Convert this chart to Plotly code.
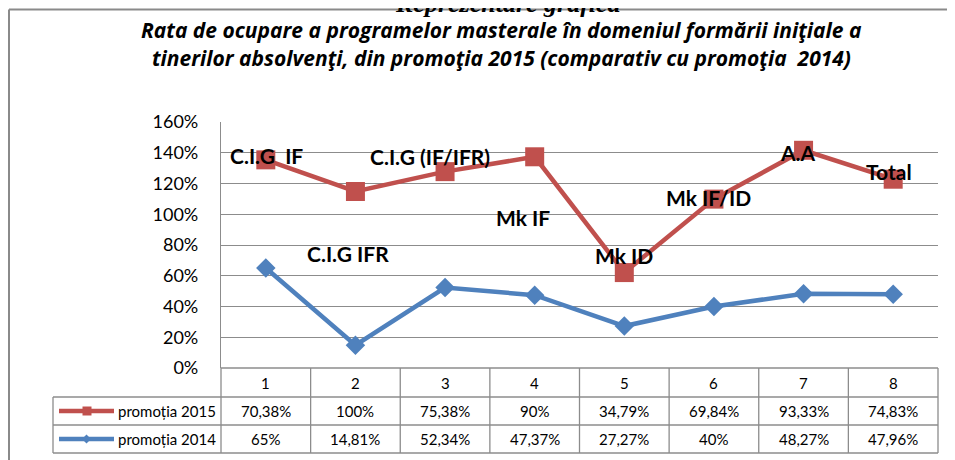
import plotly.graph_objects as go

# ---------------- data ----------------
categories = [1, 2, 3, 4, 5, 6, 7, 8]
promotia_2015 = [0.7038, 1.00, 0.7538, 0.90, 0.3479, 0.6984, 0.9333, 0.7483]
promotia_2014 = [0.65, 0.1481, 0.5234, 0.4737, 0.2727, 0.40, 0.4827, 0.4796]
point_labels = ["C.I.G  IF", "C.I.G IFR", "C.I.G (IF/IFR)", "Mk IF", "Mk ID",
                "Mk IF/ID", "A.A", "Total"]
series_names = ["promoția 2015", "promoția 2014"]
y_ticks = [0, 0.2, 0.4, 0.6, 0.8, 1.0, 1.2, 1.4, 1.6]

title_lines = ["Rata de ocupare a programelor masterale în domeniul formării iniţiale a",
               "tinerilor absolvenţi, din promoţia 2015 (comparativ cu promoţia  2014)"]
top_text = "Reprezentare grafică"

# ---------------- style ----------------
RED = "#C0504D"
BLUE = "#4F81BD"
GRID = "#8C8C8C"
OFF = 8                      # page body margin of the html page
W, H = 955, 460
PLOT_L, PLOT_R, PLOT_T, PLOT_B = 221, 938, 122, 368   # page pixels
ML, MT = PLOT_L - OFF, PLOT_T - OFF
PW, PH = PLOT_R - PLOT_L, PLOT_B - PLOT_T
MR, MB = W - ML - PW, H - MT - PH
FONT = "Lato"

# label offsets (pixels) relative to the stacked (red) point
label_shift = [(1, 4), (-7, -62), (-15, 15), (-12, -61), (0, 17), (-5, 2), (-6, -2), (-4, 8)]


def px_x(p):
    """page pixel -> paper x"""
    return (p - PLOT_L) / PW


def px_y(p):
    """page pixel -> paper y"""
    return (PLOT_B - p) / PH


def fmt(v):
    s = f"{v * 100:.2f}".rstrip("0").rstrip(".")
    return s.replace(".", ",") + "%"


fig = go.Figure()
fig.add_trace(go.Scatter(
    x=categories, y=promotia_2014, name=series_names[1], stackgroup="s", fill="none",
    mode="lines+markers", line=dict(color=BLUE, width=4.5),
    marker=dict(symbol="diamond", size=15, color=BLUE)))
fig.add_trace(go.Scatter(
    x=categories, y=promotia_2015, name=series_names[0], stackgroup="s", fill="none",
    mode="lines+markers", line=dict(color=RED, width=4.5),
    marker=dict(symbol="square", size=19, color=RED)))

annotations = []
shapes = []

# point labels
for c, a, b, lab, (dx, dy) in zip(categories, promotia_2015, promotia_2014, point_labels, label_shift):
    annotations.append(dict(x=c, y=a + b, xref="x", yref="y", text=lab, showarrow=False,
                            xshift=dx, yshift=dy, xanchor="center", yanchor="middle",
                            font=dict(family=FONT, size=21, color="black", weight="bold")))

# title (two lines)
for line, yc in zip(title_lines, [30, 58]):
    annotations.append(dict(x=px_x(501), y=px_y(yc), xref="paper", yref="paper", text=line,
                            showarrow=False, xanchor="center", yanchor="middle",
                            font=dict(family="Open Sans", size=21, color="black",
                                      weight="bold", style="italic")))
annotations.append(dict(x=px_x(508), y=px_y(3), xref="paper", yref="paper", text=top_text,
                        showarrow=False, xanchor="center", yanchor="middle",
                        font=dict(family="Liberation Serif", size=26, color="black",
                                  weight="bold", style="italic")))

# outer frame (top and left edges only are inside the page)
frame = dict(color="#8A8A8A", width=2)
shapes.append(dict(type="line", xref="paper", yref="paper", x0=px_x(OFF + 1), x1=px_x(1000),
                   y0=px_y(9.5), y1=px_y(9.5), line=frame))
shapes.append(dict(type="line", xref="paper", yref="paper", x0=px_x(OFF + 1), x1=px_x(OFF + 1),
                   y0=px_y(9.5), y1=px_y(520), line=frame))

# data table
row_y = [368, 397, 425, 453]
tbl = dict(color=GRID, width=1.3)
shapes.append(dict(type="line", xref="paper", yref="paper", x0=0, x1=1,
                   y0=px_y(row_y[0]), y1=px_y(row_y[0]), line=tbl))
for ry in row_y[1:]:
    shapes.append(dict(type="line", xref="paper", yref="paper", x0=px_x(53), x1=1,
                       y0=px_y(ry), y1=px_y(ry), line=tbl))
shapes.append(dict(type="line", xref="paper", yref="paper", x0=px_x(53), x1=px_x(53),
                   y0=px_y(row_y[1]), y1=px_y(row_y[3]), line=tbl))
for k in range(len(categories) + 1):
    xx = k / len(categories)
    shapes.append(dict(type="line", xref="paper", yref="paper", x0=xx, x1=xx,
                       y0=px_y(row_y[0]), y1=px_y(row_y[3]), line=tbl))

cell_font = dict(family=FONT, size=15, color="black")
row_centers = [(row_y[i] + row_y[i + 1]) / 2 for i in range(3)]
for c in categories:
    annotations.append(dict(x=c, y=px_y(row_centers[0]), xref="x", yref="paper", text=str(c),
                            showarrow=False, xanchor="center", yanchor="middle", font=cell_font))
for c, v in zip(categories, promotia_2015):
    annotations.append(dict(x=c, y=px_y(row_centers[1]), xref="x", yref="paper", text=fmt(v),
                            showarrow=False, xanchor="center", yanchor="middle", font=cell_font))
for c, v in zip(categories, promotia_2014):
    annotations.append(dict(x=c, y=px_y(row_centers[2]), xref="x", yref="paper", text=fmt(v),
                            showarrow=False, xanchor="center", yanchor="middle", font=cell_font))

# legend keys in table
for name, col, yc, sym in [(series_names[0], RED, row_centers[1], "sq"),
                           (series_names[1], BLUE, row_centers[2], "dia")]:
    shapes.append(dict(type="line", xref="paper", yref="paper", x0=px_x(59), x1=px_x(114),
                       y0=px_y(yc), y1=px_y(yc), line=dict(color=col, width=4.5)))
    if sym == "sq":
        shapes.append(dict(type="rect", xref="paper", yref="paper", x0=px_x(82.5), x1=px_x(91.5),
                           y0=px_y(yc + 4.5), y1=px_y(yc - 4.5), fillcolor=col, line=dict(width=0)))
    else:
        path = (f"M {px_x(82)} {px_y(yc)} L {px_x(86.5)} {px_y(yc - 4.5)} "
                f"L {px_x(91)} {px_y(yc)} L {px_x(86.5)} {px_y(yc + 4.5)} Z")
        shapes.append(dict(type="path", xref="paper", yref="paper", path=path,
                           fillcolor=col, line=dict(width=0)))
    annotations.append(dict(x=px_x(116), y=px_y(yc), xref="paper", yref="paper", text=name,
                            showarrow=False, xanchor="left", yanchor="middle", font=cell_font))

fig.update_layout(
    width=W, height=H, margin=dict(l=ML, r=MR, t=MT, b=MB),
    paper_bgcolor="white", plot_bgcolor="white", showlegend=False,
    annotations=annotations, shapes=shapes,
    xaxis=dict(range=[0.5, 8.5], showgrid=False, showticklabels=False, zeroline=False,
               showline=False, ticks=""),
    yaxis=dict(range=[0, 1.6], tickvals=y_ticks, tickformat=".0%", showgrid=True,
               gridcolor=GRID, gridwidth=1.3, zeroline=False, showline=True,
               linecolor=GRID, linewidth=1.3, ticks="", ticklabelstandoff=18,
               tickfont=dict(family=FONT, size=18, color="black")),
)

fig.write_html("out.html")
